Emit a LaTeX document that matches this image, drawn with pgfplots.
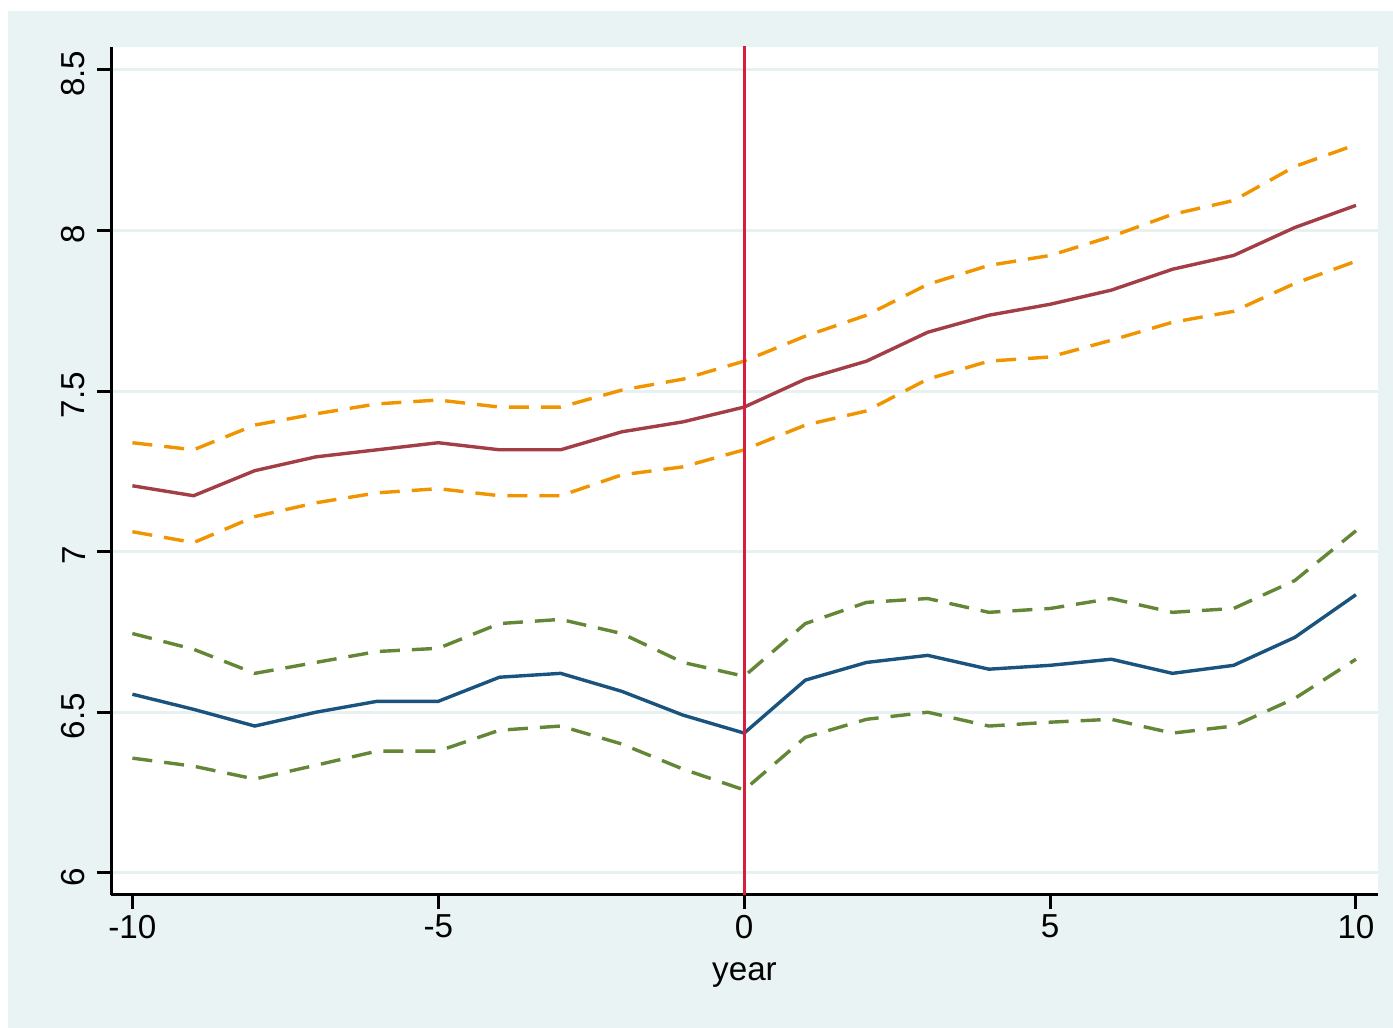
\documentclass[border=0pt]{standalone}
\usepackage{pgfplots}
\pgfplotsset{compat=1.18}
\usepackage{fontspec}
\setmainfont{Liberation Sans}
\definecolor{bgc}{RGB}{234,243,243}
\definecolor{gridc}{RGB}{232,241,241}
\definecolor{redl}{RGB}{163,62,70}
\definecolor{orl}{RGB}{240,148,0}
\definecolor{bluel}{RGB}{26,83,125}
\definecolor{grl}{RGB}{100,135,55}
\definecolor{vl}{RGB}{215,30,60}
\begin{document}
\fontsize{8.3}{10}\selectfont
\begin{tikzpicture}
\fill[white] (-27.75pt,-33.25pt) rectangle (320.5pt,223.75pt);
\fill[bgc] (-25.75pt,-33.25pt) rectangle (320.5pt,221pt);
\begin{axis}[
  at={(0,0)}, anchor=south west,
  scale only axis,
  width=316.75pt, height=212pt,
  xmin=-10.35, xmax=10.36,
  ymin=5.931, ymax=8.571,
  axis x line*=bottom, axis y line*=left,
  axis line style={line width=0.75pt, -},
  axis background/.style={fill=white},
  xtick={-10,-5,0,5,10},
  xticklabels={-10,-5,0,5,10},
  ytick={6,6.5,7,7.5,8,8.5},
  yticklabels={6,6.5,7,7.5,8,8.5},
  tick align=outside,
  major tick length=3.5pt,
  tick style={line width=0.75pt, black},
  ymajorgrids,
  grid style={line width=0.75pt, gridc},
  yticklabel style={rotate=90, anchor=south, xshift=-1pt, font=\fontsize{8.3}{10}\selectfont},
  xticklabel style={yshift=1.5pt, font=\fontsize{8.3}{10}\selectfont},
  xlabel={year},
  xlabel style={at={(axis description cs:0.5,0)}, anchor=base, yshift=-21.5pt, font=\fontsize{8.3}{10}\selectfont},
  every axis plot/.append style={line width=0.85pt},
  clip=true,
]
\addplot[orl, dash pattern=on 5pt off 3pt] coordinates {
(-10,7.339)(-9,7.317)(-8,7.394)(-7,7.429)(-6,7.460)(-5,7.472)(-4,7.450)(-3,7.450)(-2,7.503)(-1,7.537)(0,7.593)(1,7.671)(2,7.736)(3,7.832)(4,7.891)(5,7.922)(6,7.981)(7,8.050)(8,8.093)(9,8.199)(10,8.267)};
\addplot[orl, dash pattern=on 5pt off 3pt] coordinates {
(-10,7.062)(-9,7.028)(-8,7.109)(-7,7.152)(-6,7.183)(-5,7.196)(-4,7.174)(-3,7.174)(-2,7.239)(-1,7.264)(0,7.317)(1,7.394)(2,7.438)(3,7.537)(4,7.593)(5,7.606)(6,7.658)(7,7.714)(8,7.748)(9,7.835)(10,7.904)};
\addplot[redl] coordinates {
(-10,7.205)(-9,7.174)(-8,7.252)(-7,7.295)(-6,7.317)(-5,7.339)(-4,7.317)(-3,7.317)(-2,7.373)(-1,7.404)(0,7.450)(1,7.537)(2,7.593)(3,7.683)(4,7.736)(5,7.770)(6,7.814)(7,7.879)(8,7.922)(9,8.009)(10,8.078)};
\addplot[grl, dash pattern=on 5pt off 3pt] coordinates {
(-10,6.745)(-9,6.696)(-8,6.621)(-7,6.655)(-6,6.689)(-5,6.699)(-4,6.776)(-3,6.789)(-2,6.745)(-1,6.655)(0,6.612)(1,6.776)(2,6.842)(3,6.854)(4,6.811)(5,6.823)(6,6.854)(7,6.811)(8,6.823)(9,6.910)(10,7.065)};
\addplot[grl, dash pattern=on 5pt off 3pt] coordinates {
(-10,6.357)(-9,6.332)(-8,6.292)(-7,6.335)(-6,6.379)(-5,6.379)(-4,6.444)(-3,6.457)(-2,6.401)(-1,6.323)(0,6.258)(1,6.422)(2,6.478)(3,6.500)(4,6.457)(5,6.469)(6,6.478)(7,6.435)(8,6.457)(9,6.543)(10,6.665)};
\addplot[bluel] coordinates {
(-10,6.556)(-9,6.509)(-8,6.457)(-7,6.500)(-6,6.534)(-5,6.534)(-4,6.609)(-3,6.621)(-2,6.565)(-1,6.491)(0,6.435)(1,6.600)(2,6.655)(3,6.677)(4,6.634)(5,6.646)(6,6.665)(7,6.621)(8,6.646)(9,6.733)(10,6.866)};
\addplot[vl] coordinates {(0,5.9)(0,8.6)};
\end{axis}
\end{tikzpicture}
\end{document}
